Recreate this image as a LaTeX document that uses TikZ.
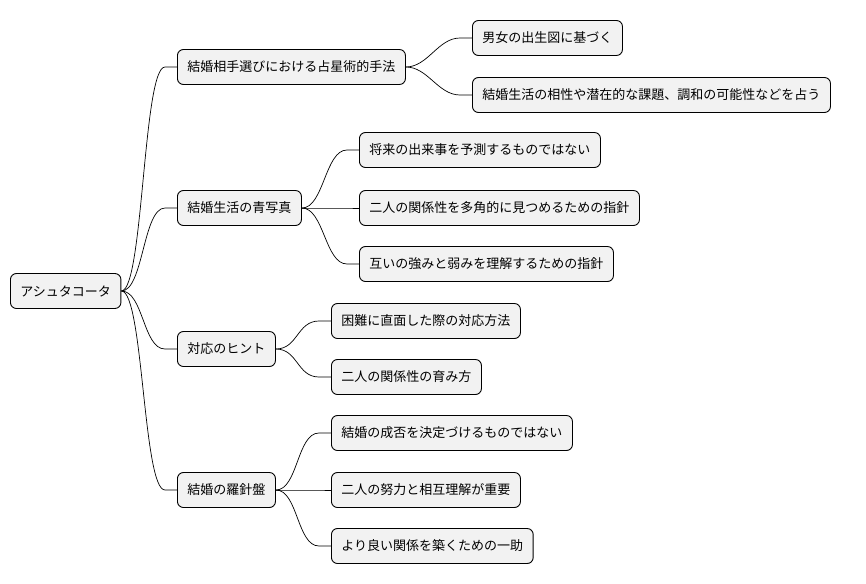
\documentclass[tikz,border=0pt]{standalone}
\usepackage{fontspec}
\setmainfont{Noto Sans CJK JP}
\usetikzlibrary{positioning}

\begin{document}
\begin{tikzpicture}[x=1pt,y=-1pt]
	\tikzset{topic/.style={draw=black, line width=0.9pt, fill=gray!10, rounded corners=6pt,
		minimum height=35pt, inner xsep=10pt, anchor=west, font=\fontsize{13}{15}\selectfont},
		link/.style={line width=0.7pt}}
	\useasboundingbox (0,0) rectangle (866,583);
	\node[topic] (root) at (10,291) {アシュタコータ};
	\node[topic] (a) at (177,67) {結婚相手選びにおける占星術的手法};
	\node[topic] (b) at (177,208) {結婚生活の青写真};
	\node[topic] (c) at (177,349) {対応のヒント};
	\node[topic] (d) at (177,490) {結婚の羅針盤};
	\node[topic] (a1) at (472,38) {男女の出生図に基づく};
	\node[topic] (a2) at (472,95) {結婚生活の相性や潜在的な課題、調和の可能性などを占う};
	\node[topic] (b1) at (359,150) {将来の出来事を予測するものではない};
	\node[topic] (b2) at (359,208) {二人の関係性を多角的に見つめるための指針};
	\node[topic] (b3) at (359,264) {互いの強みと弱みを理解するための指針};
	\node[topic] (c1) at (331,321) {困難に直面した際の対応方法};
	\node[topic] (c2) at (331,377) {二人の関係性の育み方};
	\node[topic] (d1) at (331,433) {結婚の成否を決定づけるものではない};
	\node[topic] (d2) at (331,490) {二人の努力と相互理解が重要};
	\node[topic] (d3) at (331,546) {より良い関係を築くための一助};
	% connectors
	\foreach \p/\c in {root/a,root/b,root/c,root/d,a/a1,a/a2,b/b1,b/b2,b/b3,c/c1,c/c2,d/d1,d/d2,d/d3}
		\draw[link] (\p.east) .. controls +(22,0) and +(-22,0) .. ([xshift=-12pt]\c.west) -- (\c.west);
\end{tikzpicture}
\end{document}
